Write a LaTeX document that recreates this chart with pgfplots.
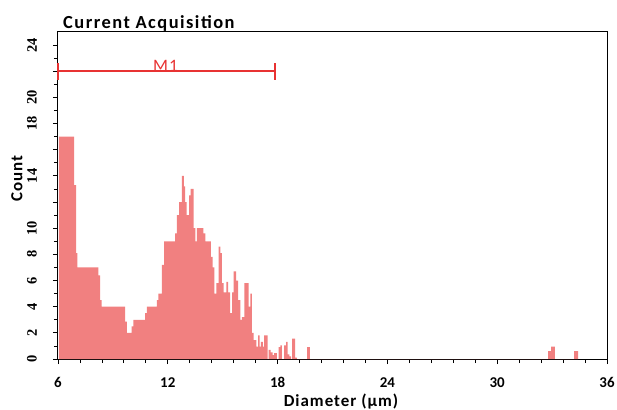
\documentclass[border=0pt]{standalone}
\usepackage{fontspec}
\setmainfont{Carlito}
\newfontfamily\serifnum{Liberation Serif}
\newfontfamily\lblfont[LetterSpace=6]{Carlito}
\newfontfamily\ttlfont[LetterSpace=8]{Carlito}
\usepackage{pgfplots}
\pgfplotsset{compat=1.18}
\definecolor{histfill}{RGB}{241,128,128}
\definecolor{gatered}{RGB}{232,50,50}
\begin{document}
\begin{tikzpicture}[x=1bp,y=1bp]
\useasboundingbox (-58bp,-51bp) rectangle (559bp,359bp);
\begin{axis}[
  at={(0,0)}, anchor=south west,
  scale only axis, width=549bp, height=327bp,
  xmin=6, xmax=36, ymin=0, ymax=25,
  clip=false,
  axis line style={black, line width=1bp},
  tick pos=left, tick align=outside,
  major tick length=5bp, minor tick length=4bp,
  every tick/.style={black, line width=0.8bp},
  xtick={6,12,...,36}, minor x tick num=4,
  ytick={0,2,...,24}, minor y tick num=1,
  yticklabels={0,2,4,6,8,10,{},14,{},18,20,{},24},
  /pgf/number format/assume math mode=true,
  xticklabel style={font=\bfseries\fontsize{15}{18}\selectfont, anchor=north, inner sep=0pt},
  xticklabel shift=13bp,
  yticklabel style={rotate=90, anchor=south, font=\serifnum\bfseries\fontsize{14.5}{16}\selectfont, inner sep=0pt},
  yticklabel shift=16bp,
]
\addplot[draw=none, fill=histfill, const plot] coordinates {
(6.05,17) (6.88,13.3) (6.99,8.1) (7.06,7) (8.20,6.4) (8.30,4.5) (8.39,4)
(9.67,2.85) (9.76,2) (10.03,2.5) (10.12,3) (10.76,3.5) (10.85,4)
(11.40,4.5) (11.49,5) (11.67,7.2) (11.80,9) (12.40,9.6) (12.50,11)
(12.62,12) (12.77,14) (12.88,13.2) (12.95,12) (13.03,11) (13.17,12.5)
(13.25,13) (13.41,10) (13.50,9) (13.59,10) (13.95,9.6) (14.06,9)
(14.36,7.8) (14.45,7) (14.54,5) (14.65,5.8) (14.78,8.6) (14.87,8.1)
(14.96,5.8) (15.05,5.1) (15.20,5.9) (15.29,5.1) (15.41,3.5) (15.51,5.1)
(15.60,6.7) (15.74,6) (15.84,4.5) (15.96,3) (16.05,3.2) (16.18,5.8)
(16.42,4) (16.51,5) (16.60,2) (16.69,1.45) (16.84,0.94) (16.93,1.8)
(17.02,0.94) (17.09,1.3) (17.20,0.94) (17.27,1.8) (17.46,0)
(17.51,0.7) (17.62,0.5) (17.73,0.3) (17.81,0.45) (17.96,0)
(18.05,0.9) (18.15,1.05) (18.24,0) (18.35,1.05) (18.46,1.3) (18.55,0.35)
(18.64,0.2) (18.74,0) (18.80,1.55) (18.96,0.1) (19.06,0)
(19.62,0.9) (19.77,0)
(32.78,0.6) (32.95,0.95) (33.15,0) (34.20,0.6) (34.42,0)
} \closedcycle;
\addplot[gatered, line width=1.5bp, no marks, forget plot] coordinates {(6,22) (17.88,22)};
\addplot[gatered, line width=2bp, no marks, forget plot] coordinates {(6,21.35) (6,22.65)};
\addplot[gatered, line width=2bp, no marks, forget plot] coordinates {(17.88,21.35) (17.88,22.65)};
\node[text=gatered, anchor=base, inner sep=0pt, font=\lblfont\fontsize{17.5}{20}\selectfont] at (axis cs:11.88,22) {M1};
\end{axis}
\node[anchor=base west, inner sep=0pt, font=\ttlfont\bfseries\fontsize{18.5}{22}\selectfont] at (5bp,330.7bp) {Current Acquisition};
\node[anchor=base, inner sep=0pt, font=\lblfont\bfseries\fontsize{17}{20}\selectfont] at (283bp,-47.5bp) {Diameter (µm)};
\node[rotate=90, inner sep=0pt, font=\lblfont\bfseries\fontsize{17}{20}\selectfont] at (-41bp,180.5bp) {Count};
\end{tikzpicture}
\end{document}
